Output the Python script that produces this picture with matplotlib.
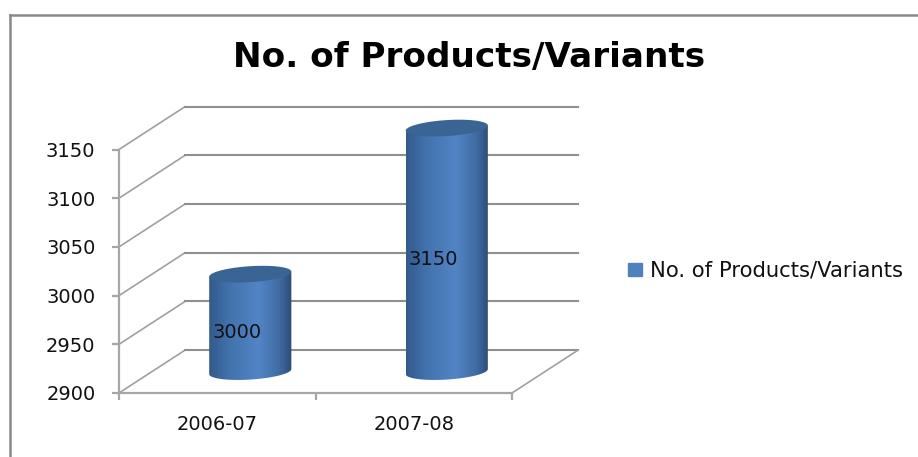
import numpy as np
import matplotlib
matplotlib.use('Agg')
import matplotlib.pyplot as plt
from matplotlib.colors import LinearSegmentedColormap
from matplotlib.lines import Line2D
from matplotlib.patches import Patch, Polygon

# values
years = ['2006-07', '2007-08']
products = [3000, 3150]
series_name = 'No. of Products/Variants'
yticks = [2900, 2950, 3000, 3050, 3100, 3150]

W, H = 918, 457
fig = plt.figure(figsize=(W / 100, H / 100), dpi=100)
ax = fig.add_axes([119 / W, (H - 393) / H, 393 / W, 243.5 / H])
ax.set_xlim(-0.5, 1.5)
ax.set_ylim(2900, 3150)

# fake 3d depth, in data units
dx, dy = 0.336, 44
grid_col = '#8f8f8f'
for v in yticks:
    ax.plot([-0.5, -0.5 + dx], [v, v + dy], color='#a0a0a0', lw=1.2, clip_on=False, zorder=1)
    ax.plot([-0.5 + dx, 1.5 + dx], [v + dy, v + dy], color=grid_col, lw=1.5, clip_on=False, zorder=1)
ax.plot([1.5, 1.5 + dx], [2900, 2900 + dy], color='#a0a0a0', lw=1.2, clip_on=False, zorder=1)

# cylinders
shade = LinearSegmentedColormap.from_list('cyl', [(0, '#335a8c'), (0.25, '#4273ae'), (0.6, '#5285c6'),
                                                  (0.85, '#406ca2'), (1, '#2c4c75')])
half_w = 0.209
b, k = 8.2, 2.6
t = np.linspace(0, 2 * np.pi, 120)


def ellipse(cx, cy):
    return cx + half_w * np.cos(t), cy + b * np.sin(t) + k * np.cos(t)


for i, v in enumerate(products):
    cx = i + dx / 2
    y0 = 2900 + dy / 2
    y1 = v + dy / 2
    # body outline: lower half of the base, upper side closed by the top ellipse
    low = np.linspace(np.pi, 2 * np.pi, 60)
    xs = cx + half_w * np.cos(low)
    ys = y0 + b * np.sin(low) + k * np.cos(low)
    body = np.column_stack([np.r_[xs, cx + half_w, cx - half_w],
                            np.r_[ys, y1 + k, y1 - k]])
    im = ax.imshow(np.linspace(0, 1, 128).reshape(1, -1), cmap=shade, aspect='auto',
                   extent=[cx - half_w, cx + half_w, y0 - 20, y1 + 20], zorder=2)
    im.set_clip_path(Polygon(body, closed=True, transform=ax.transData))
    im.set_clip_box(fig.bbox)
    ex, ey = ellipse(cx, y1)
    ax.fill(ex, ey, color='#3a6493', lw=0, clip_on=False, zorder=3)
    ax.annotate(str(v), (i, (v + 2900) / 2), xytext=(14.4, 8.2), textcoords='offset points',
                ha='center', va='center', fontsize=14, color='#111111', zorder=4)

ax.set_xlim(-0.5, 1.5)
ax.set_ylim(2900, 3150)

# axes
for s in ['top', 'right']:
    ax.spines[s].set_visible(False)
for s in ['left', 'bottom']:
    ax.spines[s].set_color('#a6a6a6')
    ax.spines[s].set_linewidth(1.6)
ax.patch.set_visible(False)
ax.set_yticks(yticks)
ax.set_xticks([-0.5, 0.5, 1.5])
ax.set_xticklabels([])
ax.set_xticks([0, 1], labels=years, minor=True)
ax.tick_params(axis='y', length=5, width=1.6, color='#a6a6a6', labelsize=14, pad=12, labelcolor='#111111')
ax.tick_params(axis='x', which='major', length=5, width=1.6, color='#a6a6a6')
ax.tick_params(axis='x', which='minor', length=0, labelsize=14, pad=16, labelcolor='#111111')

# outer frame, only top and left show
fig.add_artist(Line2D([10 / W, 10 / W], [0, 1 - 15 / H], color='#8a8a8a', lw=1.8))
fig.add_artist(Line2D([10 / W, 1], [1 - 15 / H, 1 - 15 / H], color='#8a8a8a', lw=1.8))

fig.text(469 / W, 1 - 57 / H, series_name, ha='center', va='center', fontsize=24.7, fontweight='bold', color='black')

fig.legend(handles=[Patch(color='#4f81bd', label=series_name)], loc='center left',
           bbox_to_anchor=(628 / W, 1 - 271 / H), frameon=False, fontsize=15.2,
           handlelength=0.65, handleheight=0.52, handletextpad=0.38, borderpad=0, borderaxespad=0,
           labelcolor='#111111')

fig.savefig('out.png', dpi=100)
